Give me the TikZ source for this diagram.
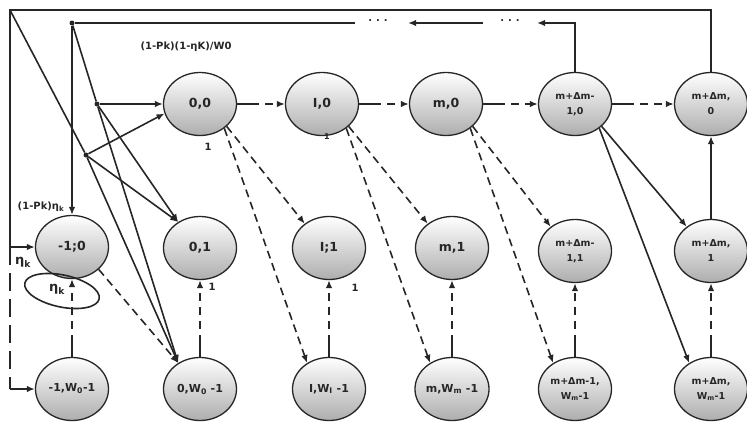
\documentclass[tikz,border=0pt]{standalone}
\usepackage{fontspec}
\setmainfont{DejaVu Sans}
\usetikzlibrary{arrows.meta,shapes.geometric}
\begin{document}
\begin{tikzpicture}[x=1pt,y=-1pt,
  st/.style={ellipse,draw=black!85,line width=1.3pt,minimum width=73pt,minimum height=63pt,inner sep=0pt,
    top color=white,bottom color=black!32,align=center,text=black!85,font=\bfseries\fontsize{12.5}{13}\selectfont},
  stw/.style={st,font=\bfseries\fontsize{11}{12}\selectfont},
  st2/.style={st,font=\bfseries\fontsize{9.5}{15}\selectfont},
  ln/.style={line width=1.6pt,draw=black!85},
  tip/.style={-{Latex[length=8pt,width=6.5pt]}},
  sdash/.style={ln,tip,dash pattern=on 22pt off 6pt on 8pt off 6pt on 8pt off 6pt on 8pt off 6pt on 8pt off 60pt},
  ddash/.style={ln,tip,dash pattern=on 8pt off 5pt},
  dot/.style={circle,fill=black!85,inner sep=0pt,minimum size=5pt},
  lbl/.style={font=\bfseries\fontsize{10}{11}\selectfont,text=black!85,inner sep=0pt}
]
\useasboundingbox (0,0) rectangle (747,421);

% row 0
\node[st] (a0) at (200,104) {0,0};
\node[st] (b0) at (322,104) {I,0};
\node[st] (c0) at (446,104) {m,0};
\node[st2] (d0) at (575,104) {m+Δm-\\1,0};
\node[st2] (e0) at (711,104) {m+Δm,\\0};
% row 1
\node[st] (z1) at (72,247) {-1;0};
\node[st] (a1) at (200,248) {0,1};
\node[st] (b1) at (329,248) {I;1};
\node[st] (c1) at (452,248) {m,1};
\node[st2] (d1) at (575,251) {m+Δm-\\1,1};
\node[st2] (e1) at (711,251) {m+Δm,\\1};
% row 2
\node[stw] (z2) at (72,389) {-1,W\textsubscript{0}-1};
\node[stw] (a2) at (200,389) {0,W\textsubscript{0} -1};
\node[stw] (b2) at (329,389) {I,W\textsubscript{I} -1};
\node[stw] (c2) at (452,389) {m,W\textsubscript{m} -1};
\node[st2] (d2) at (575,389) {m+Δm-1,\\W\textsubscript{m}-1};
\node[st2] (e2) at (711,389) {m+Δm,\\W\textsubscript{m}-1};

% junction dots
\node[dot] (p0) at (72,23) {};
\node[dot] (p1) at (97,104) {};
\node[dot] (p2) at (86,155) {};

% outer frame
\coordinate (oR) at (711,10);
\coordinate (oL) at (10,10);
\coordinate (oA) at (10,247);
\coordinate (oB) at (10,389);
\draw[ln] (e0.north) -- (oR) -- (oL) -- (oA);
\draw[ln,tip] (oA) -- (z1.west);
\draw[ln,dash pattern=on 18pt off 8pt] (oA) -- (oB);
\draw[ln,tip] (oB) -- (z2.west);

% inner frame
\coordinate (i1) at (575,23);
\coordinate (i2) at (537,23);
\coordinate (i3) at (483,23);
\coordinate (i4) at (408,23);
\coordinate (i5) at (355,23);
\draw[ln,tip] (d0.north) -- (i1) -- (i2);
\node[lbl] (dd1) at (510,21) {.\hspace{4pt}.\hspace{4pt}.};
\draw[ln,tip] (i3) -- (i4);
\node[lbl] (dd2) at (378,21) {.\hspace{4pt}.\hspace{4pt}.};
\draw[ln] (i5) -- (p0);

% left fan
\draw[ln,tip] (p0) -- (z1.north);
\draw[ln] (oL) -- (p2);
\draw[ln,tip] (p2) -- (a2.130);
\draw[ln] (p0) -- (p1);
\draw[ln,tip] (p1) -- (a2.130);
\draw[ln,tip] (p1) -- (a0.west);
\draw[ln,tip] (p2) -- (a0.195);
\draw[ln,tip] (p1) -- (a1.130);
\draw[ln,tip] (p2) -- (a1.130);

% horizontal row 0
\draw[sdash] (a0) -- (b0);
\draw[sdash] (b0) -- (c0);
\draw[sdash] (c0) -- (d0);
\draw[sdash] (d0) -- (e0);

% diagonals
\draw[ddash] (a0.-40) -- (b1.135);
\draw[ddash] (a0.-45) -- (b2.130);
\draw[ddash] (b0.-40) -- (c1.135);
\draw[ddash] (b0.-45) -- (c2.130);
\draw[ddash] (c0.-40) -- (d1.135);
\draw[ddash] (c0.-45) -- (d2.130);
\draw[ln,tip] (d0.-40) -- (e1.135);
\draw[ln,tip] (d0.-45) -- (e2.130);
\draw[ddash] (z1.-40) -- (a2.130);

% verticals
\draw[sdash] (z2) -- (z1);
\draw[sdash] (a2) -- (a1);
\draw[sdash] (b2) -- (b1);
\draw[sdash] (c2) -- (c1);
\draw[sdash] (d2) -- (d1);
\draw[sdash] (e2) -- (e1);
\draw[ln,tip] (e1) -- (e0);

% self loop
\draw[ln,rotate around={-12:(62,291)}] (62,291) ellipse [x radius=38pt,y radius=16pt];

% labels
\node[lbl] (t1) at (186,47) {(1-Pk)(1-ηK)/W0};
\node[lbl] (t2) at (208,147) {1};
\node[lbl,font=\bfseries\fontsize{8}{9}\selectfont] (t3) at (327,137) {1};
\node[lbl] (t4) at (212,287) {1};
\node[lbl] (t5) at (355,288) {1};
\node[lbl,font=\bfseries\fontsize{10}{11}\selectfont] (t6) at (41,207) {(1-Pk)η\textsubscript{k}};
\node[lbl,font=\bfseries\fontsize{13}{13}\selectfont] (t7) at (23,262) {η\textsubscript{k}};
\node[lbl,font=\bfseries\fontsize{13}{13}\selectfont] (t8) at (57,289) {η\textsubscript{k}};
\end{tikzpicture}
\end{document}
